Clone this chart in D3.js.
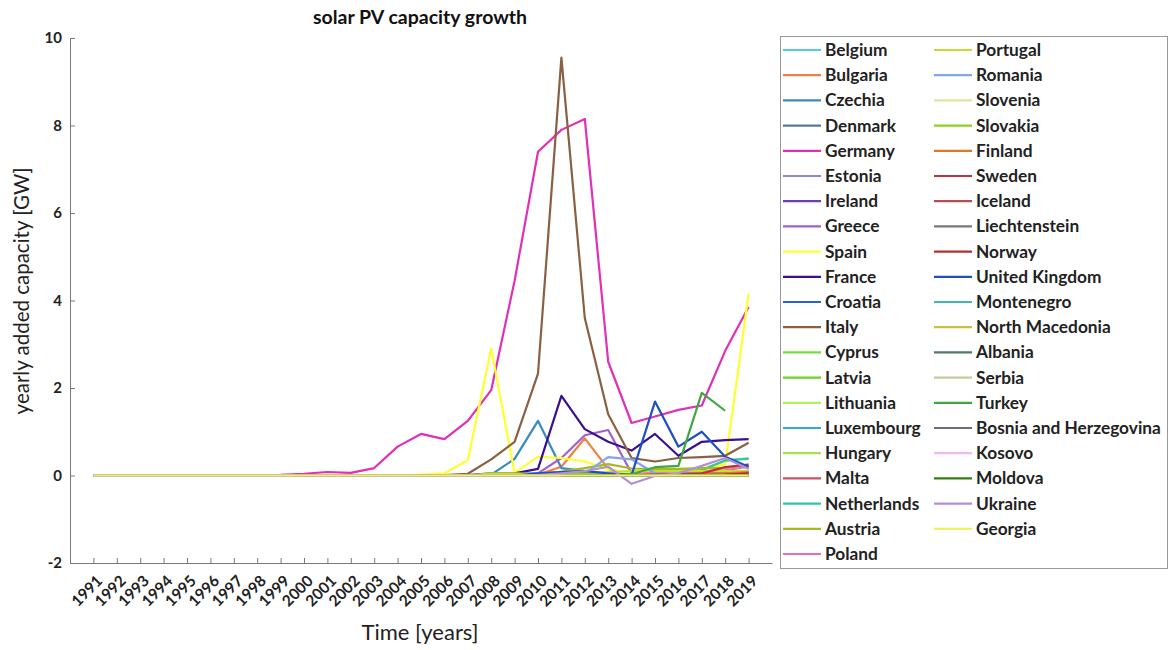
<!DOCTYPE html>
<html>
<head>
<meta charset="utf-8">
<script src="https://cdn.jsdelivr.net/npm/d3@7"></script>
<style>
  body { margin: 0; background: #fff; }
  text { font-family: Lato, "Open Sans", sans-serif; }
</style>
</head>
<body>
<div id="chart"></div>
<script>
// years on the x axis
const years = [1991,1992,1993,1994,1995,1996,1997,1998,1999,2000,2001,2002,2003,2004,2005,2006,2007,2008,2009,2010,2011,2012,2013,2014,2015,2016,2017,2018,2019];
const yTicks = [-2, 0, 2, 4, 6, 8, 10];

const countries = ["Belgium","Bulgaria","Czechia","Denmark","Germany","Estonia","Ireland","Greece","Spain","France","Croatia","Italy","Cyprus","Latvia","Lithuania","Luxembourg","Hungary","Malta","Netherlands","Austria","Poland","Portugal","Romania","Slovenia","Slovakia","Finland","Sweden","Iceland","Liechtenstein","Norway","United Kingdom","Montenegro","North Macedonia","Albania","Serbia","Turkey","Bosnia and Herzegovina","Kosovo","Moldova","Ukraine","Georgia"];

const colors = ["#4dd0d8","#f08040","#3a8ac0","#5a7898","#e030b8","#9a80d8","#6a40b0","#a060d0","#ffff30","#3a1090","#2a60d0","#8a6040","#70e040","#70d020","#b0f060","#30a8e8","#a8e050","#d05060","#30c8a0","#a8b820","#e870b0","#c0e030","#80a8e8","#d8e8a0","#90d020","#e07828","#c03040","#b05050","#787878","#b03030","#2050c0","#40b8b0","#c8c040","#507860","#c8c898","#40a840","#706880","#f0b8f0","#308010","#b090d8","#f0f060"];

// yearly added capacity [GW], 1991..2019 (null = no data)
const belgium      = [0,0,0,0,0,0,0,0,0,0,0,0,0,0,0,0,0,0.02,0.05,0.05,0.08,0.06,0.03,0.02,0.02,0.03,0.05,0.06,0.08];
const bulgaria     = [0,0,0,0,0,0,0,0,0,0,0,0,0,0,0,0,0,0,0,0.02,0.2,0.85,0.15,0.01,0.01,0,0,0,0.01];
const czechia      = [0,0,0,0,0,0,0,0,0,0,0,0,0,0,0,0,0,0.02,0.38,1.25,0.17,0.1,0.05,0,0,0,0,0,0.02];
const denmark      = [0,0,0,0,0,0,0,0,0,0,0,0,0,0,0,0,0,0,0,0,0.01,0.05,0.05,0.02,0.02,0.02,0.05,0.05,0.1];
const germany      = [0,0,0,0,0,0.005,0.01,0.01,0.015,0.04,0.08,0.06,0.17,0.66,0.95,0.83,1.25,1.95,4.45,7.4,7.9,8.15,2.6,1.2,1.35,1.5,1.6,2.85,3.85];
const estonia      = [0,0,0,0,0,0,0,0,0,0,0,0,0,0,0,0,0,0,0,0,0,0,0,0,0,0,0.01,0.02,0.05];
const ireland      = [0,0,0,0,0,0,0,0,0,0,0,0,0,0,0,0,0,0,0,0,0,0,0,0,0,0,0.01,0.01,0.02];
const greece       = [0,0,0,0,0,0,0,0,0,0,0,0,0,0,0,0,0,0.01,0.04,0.05,0.4,0.92,1.04,0.05,0.01,0.01,0.01,0.02,0.05];
const spain        = [0,0,0,0,0,0,0,0,0,0,0,0,0,0,0.02,0.05,0.35,2.9,0.06,0.43,0.4,0.32,0.15,0.02,0.05,0.05,0.14,0.25,4.15];
const france       = [0,0,0,0,0,0,0,0,0,0,0,0,0,0,0,0,0.01,0.05,0.05,0.15,1.82,1.06,0.77,0.57,0.95,0.45,0.77,0.81,0.83];
const croatia      = [0,0,0,0,0,0,0,0,0,0,0,0,0,0,0,0,0,0,0,0,0,0,0.02,0.02,0.01,0.01,0.01,0.01,0.01];
const italy        = [0,0,0,0,0,0.01,0.01,0.01,0.01,0.01,0.01,0.01,0.01,0.01,0.01,0.01,0.04,0.37,0.77,2.33,9.55,3.6,1.4,0.4,0.32,0.4,0.42,0.45,0.75];
const cyprus       = [0,0,0,0,0,0,0,0,0,0,0,0,0,0,0,0,0,0,0,0,0,0,0.01,0.02,0.02,0.02,0.02,0.03,0.05];
const latvia       = [0,0,0,0,0,0,0,0,0,0,0,0,0,0,0,0,0,0,0,0,0,0,0,0,0,0,0,0,0];
const lithuania    = [0,0,0,0,0,0,0,0,0,0,0,0,0,0,0,0,0,0,0,0,0,0.01,0.06,0,0,0,0,0,0.02];
const luxembourg   = [0,0,0,0,0,0,0,0,0,0,0,0,0,0,0,0,0,0,0,0,0,0,0.01,0.01,0.01,0.01,0.01,0.01,0.01];
const hungary      = [0,0,0,0,0,0,0,0,0,0,0,0,0,0,0,0,0,0,0,0,0,0,0.02,0.03,0.1,0.12,0.14,0.33,0.4];
const malta        = [0,0,0,0,0,0,0,0,0,0,0,0,0,0,0,0,0,0,0,0,0,0,0.01,0.02,0.02,0.02,0.02,0.02,0.02];
const netherlands  = [0,0,0,0,0,0,0,0,0,0,0,0,0,0,0,0,0,0,0,0,0,0,0.02,0.02,0.03,0.05,0.12,0.35,0.38];
const austria      = [0,0,0,0,0,0,0,0,0,0,0,0,0,0,0,0,0,0,0.02,0.04,0.09,0.17,0.26,0.16,0.15,0.15,0.17,0.17,0.25];
const poland       = [0,0,0,0,0,0,0,0,0,0,0,0,0,0,0,0,0,0,0,0,0,0,0,0.01,0.07,0.1,0.1,0.12,0.2];
const portugal     = [0,0,0,0,0,0,0,0,0,0,0,0,0,0,0,0,0,0.05,0.05,0.03,0.04,0.05,0.08,0.1,0.1,0.1,0.1,0.1,0.1];
const romania      = [0,0,0,0,0,0,0,0,0,0,0,0,0,0,0,0,0,0,0,0,0,0.05,0.42,0.37,0.05,0.02,0.02,0.02,0.02];
const slovenia     = [0,0,0,0,0,0,0,0,0,0,0,0,0,0,0,0,0,0,0,0.02,0.03,0.05,0.02,0,0,0,0,0,0.01];
const slovakia     = [0,0,0,0,0,0,0,0,0,0,0,0,0,0,0,0,0,0,0,0.02,0.05,0.05,0.01,0,0,0,0,0,0];
const finland      = [0,0,0,0,0,0,0,0,0,0,0,0,0,0,0,0,0,0,0,0,0,0,0,0,0,0.01,0.03,0.05,0.08];
const sweden       = [0,0,0,0,0,0,0,0,0,0,0,0,0,0,0,0,0,0,0,0,0,0,0,0,0.02,0.03,0.05,0.19,0.25];
const iceland      = [0,0,0,0,0,0,0,0,0,0,0,0,0,0,0,0,0,0,0,0,0,0,0,0,0,0,0,0,0];
const liechtenstein= [0,0,0,0,0,0,0,0,0,0,0,0,0,0,0,0,0,0,0,0,0,0,0,0,0,0,0,0,0];
const norway       = [0,0,0,0,0,0,0,0,0,0,0,0,0,0,0,0,0,0,0,0,0,0,0,0,0,0,0.01,0.02,0.05];
const unitedKingdom= [0,0,0,0,0,0,0,0,0,0,0,0,0,0,0,0,0,0,0,0.05,0.08,0.1,0.05,0.01,1.69,0.66,1.0,0.43,0.2];
const montenegro   = [0,0,0,0,0,0,0,0,0,0,0,0,0,0,0,0,0,0,0,0,0,0,0,0,0,0,0,0,0];
const northMacedonia=[0,0,0,0,0,0,0,0,0,0,0,0,0,0,0,0,0,0,0,0,0,0,0.01,0.01,0,0,0,0,0.01];
const albania      = [0,0,0,0,0,0,0,0,0,0,0,0,0,0,0,0,0,0,0,0,0,0,0,0,0,0,0,0,0];
const serbia       = [0,0,0,0,0,0,0,0,0,0,0,0,0,0,0,0,0,0,0,0,0,0,0,0,0,0,0,0,0];
const turkey       = [0,0,0,0,0,0,0,0,0,0,0,0,0,0,0,0,0,0,0,0,0,0,0,0.03,0.19,0.22,1.89,1.48,null];
const bosnia       = [0,0,0,0,0,0,0,0,0,0,0,0,0,0,0,0,0,0,0,0,0,0,0,0,0,0,0,0,0.01];
const kosovo       = [0,0,0,0,0,0,0,0,0,0,0,0,0,0,0,0,0,0,0,0,0,0,0,0,0,0,0,0,0];
const moldova      = [null,null,null,null,null,null,null,null,null,null,null,null,null,null,null,null,null,null,null,null,0,0,0,0,0,0,0,0,0];
const ukraine      = [0,0,0,0,0,0,0,0,0,0,0,0,0,0,0,0,0,0,0,0.01,0.05,0.1,0.2,-0.19,-0.01,0.05,0.22,0.4,0.15];
const georgia      = [0,0,0,0,0,0,0,0,0,0,0,0,0,0,0,0,0,0,0,0,0,0,0,0,0,0,0,0,0];

const series = [belgium,bulgaria,czechia,denmark,germany,estonia,ireland,greece,spain,france,croatia,italy,cyprus,latvia,lithuania,luxembourg,hungary,malta,netherlands,austria,poland,portugal,romania,slovenia,slovakia,finland,sweden,iceland,liechtenstein,norway,unitedKingdom,montenegro,northMacedonia,albania,serbia,turkey,bosnia,kosovo,moldova,ukraine,georgia];

const W = 1171, H = 650;
const plot = {left: 70, right: 772, top: 38, bottom: 563};

const svg = d3.select("#chart").append("svg")
    .attr("width", W)
    .attr("height", H);

const x = d3.scaleLinear().domain([1990, 2020]).range([plot.left, plot.right]);
const y = d3.scaleLinear().domain([-2, 10]).range([plot.bottom, plot.top]);

// axes, MATLAB style: ticks inside
svg.append("g")
    .attr("transform", "translate(0," + plot.bottom + ")")
    .call(d3.axisBottom(x).tickValues(years).tickSize(-5).tickSizeOuter(0).tickFormat(""));
svg.append("g")
    .attr("transform", "translate(" + plot.left + ",0)")
    .call(d3.axisLeft(y).tickValues(yTicks).tickSize(-5).tickSizeOuter(0).tickFormat(""));
svg.selectAll(".domain, .tick line").attr("stroke", "#7a7a7a");

// y tick labels
svg.append("g").selectAll("text")
  .data(yTicks)
  .enter().append("text")
    .attr("x", plot.left - 8)
    .attr("y", d => y(d) + 5)
    .attr("text-anchor", "end")
    .attr("font-size", 15)
    .attr("font-weight", "bold")
    .attr("fill", "#222")
    .text(d => d);

// x tick labels, rotated
svg.append("g").selectAll("text")
  .data(years)
  .enter().append("text")
    .attr("transform", d => "translate(" + (x(d) + 10) + "," + (plot.bottom + 19) + ") rotate(-45)")
    .attr("text-anchor", "end")
    .attr("font-size", 15.5)
    .attr("font-weight", "bold")
    .attr("fill", "#222")
    .text(d => d);

// lines
let line = d3.line()
    .defined(d => d.v !== null)
    .x(d => x(d.year))
    .y(d => y(d.v));

svg.append("g")
  .selectAll("path")
  .data(series)
  .enter().append("path")
    .attr("d", s => line(s.map((v, i) => ({year: years[i], v: v}))))
    .attr("fill", "none")
    .attr("stroke", (s, i) => colors[i])
    .attr("stroke-width", 2.2)
    .attr("stroke-linejoin", "round");

// title and axis labels
svg.append("text")
    .attr("x", 420).attr("y", 24)
    .attr("text-anchor", "middle")
    .attr("font-size", 19.5)
    .attr("font-weight", "bold")
    .attr("fill", "#111")
    .text("solar PV capacity growth");

svg.append("text")
    .attr("x", 420).attr("y", 640)
    .attr("text-anchor", "middle")
    .attr("font-size", 22)
    .attr("fill", "#222")
    .text("Time [years]");

svg.append("text")
    .attr("transform", "translate(29," + 291 + ") rotate(-90)")
    .attr("text-anchor", "middle")
    .attr("font-size", 20.5)
    .attr("fill", "#222")
    .text("yearly added capacity [GW]");

// legend
const legend = svg.append("g");
legend.append("rect")
    .attr("x", 780.5).attr("y", 36.5)
    .attr("width", 387).attr("height", 532)
    .attr("fill", "#fff")
    .attr("stroke", "#999");

const rowH = 25.2;
const items = legend.selectAll("g.item")
  .data(countries)
  .enter().append("g")
    .attr("class", "item")
    .attr("transform", (d, i) => {
      let col = i < 21 ? 0 : 1, row = i < 21 ? i : i - 21;
      return "translate(" + (col === 0 ? 783 : 934) + "," + (50 + row * rowH) + ")";
    });
items.append("line")
    .attr("x1", 0).attr("x2", 38)
    .attr("stroke", (d, i) => colors[i])
    .attr("stroke-width", 2.2);
items.append("text")
    .attr("x", 42).attr("y", 6)
    .attr("font-size", 17.3)
    .attr("font-weight", "bold")
    .attr("fill", "#222")
    .text(d => d);
</script>
</body>
</html>
